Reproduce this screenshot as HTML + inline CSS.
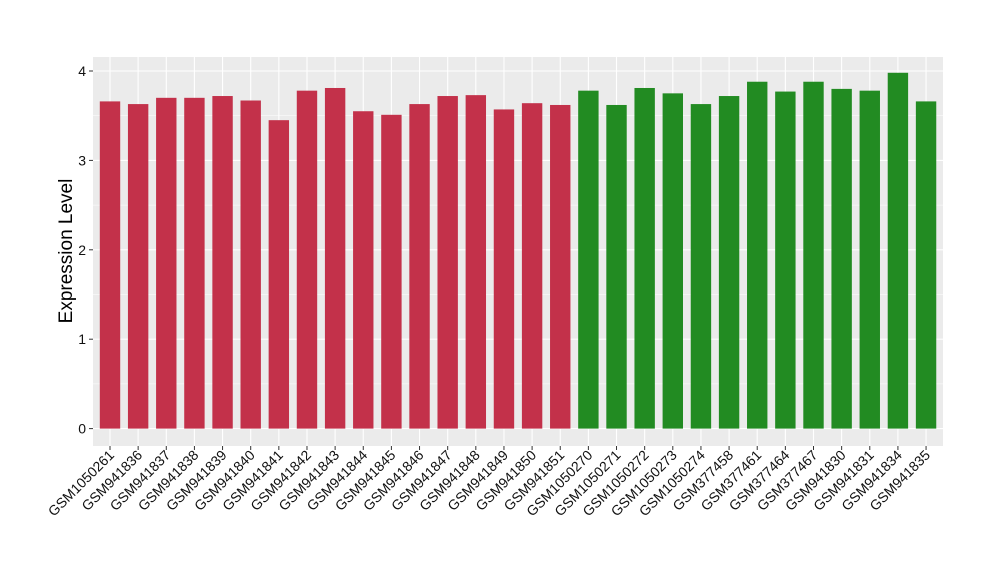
<!DOCTYPE html>
<html><head><meta charset="utf-8"><style>
body{margin:0;background:#fff;}
svg{display:block;font-family:"Liberation Sans",sans-serif;}
</style></head><body>
<svg id="chart" width="1000" height="580">
<rect x="93" y="57" width="850" height="389" fill="#EBEBEB"/>
<g id="grid"></g><g id="bars"></g><g id="yaxis"></g><g id="xaxis"></g>
<text x="0" y="0" transform="translate(72,251) rotate(-90)" text-anchor="middle" font-size="19" fill="#000">Expression Level</text>
</svg>
<script>
const categories=["GSM1050261","GSM941836","GSM941837","GSM941838","GSM941839","GSM941840","GSM941841","GSM941842","GSM941843","GSM941844","GSM941845","GSM941846","GSM941847","GSM941848","GSM941849","GSM941850","GSM941851","GSM1050270","GSM1050271","GSM1050272","GSM1050273","GSM1050274","GSM377458","GSM377461","GSM377464","GSM377467","GSM941830","GSM941831","GSM941834","GSM941835"];
const values=[3.66,3.63,3.70,3.70,3.72,3.67,3.45,3.78,3.81,3.55,3.51,3.63,3.72,3.73,3.57,3.64,3.62,3.78,3.62,3.81,3.75,3.63,3.72,3.88,3.77,3.88,3.80,3.78,3.98,3.66];
const groups=["a","a","a","a","a","a","a","a","a","a","a","a","a","a","a","a","a","b","b","b","b","b","b","b","b","b","b","b","b","b"];
const yTicks=[0,1,2,3,4];
const NS="http://www.w3.org/2000/svg";
const y=v=>428.6-v*89.4;
const x=i=>110+i*28.14;
function mk(tag,parent,attrs){const e=document.createElementNS(NS,tag);for(const k in attrs)e.setAttribute(k,attrs[k]);document.getElementById(parent).appendChild(e);return e;}
for(let v=-0.5;v<=4.5;v+=0.5){const yy=y(v);if(yy<57||yy>446)continue;
 const major=Number.isInteger(v);
 const l=mk("line","grid",{x1:93,x2:943,y1:yy,y2:yy,stroke:"#fff","stroke-width":major?1.1:0.5});
 
 }
categories.forEach((c,i)=>{const l=mk("line","grid",{x1:x(i),x2:x(i),y1:57,y2:446,stroke:"#fff","stroke-width":1.1});
 
 });
values.forEach((v,i)=>{const r=mk("rect","bars",{x:x(i)-10.2,width:20.4,y:y(v),height:y(0)-y(v),fill:groups[i]==="a"?"#C3314A":"#228B22"});
 
 });
yTicks.forEach(t=>{const l=mk("line","yaxis",{x1:89,x2:93,y1:y(t),y2:y(t),stroke:"#333"});
 
 
 const tx=mk("text","yaxis",{x:86,y:y(t)+5,"text-anchor":"end","font-size":14,fill:"#111"});
 tx.textContent=t;
 
 });
categories.forEach((c,i)=>{const l=mk("line","xaxis",{x1:x(i),x2:x(i),y1:446,y2:450,stroke:"#333"});
 
 
 const tx=mk("text","xaxis",{transform:`translate(${x(i)+5},${456}) rotate(-45)`,"text-anchor":"end","font-size":14,fill:"#111"});
 tx.textContent=c;
 
 });
</script>
</body></html>
